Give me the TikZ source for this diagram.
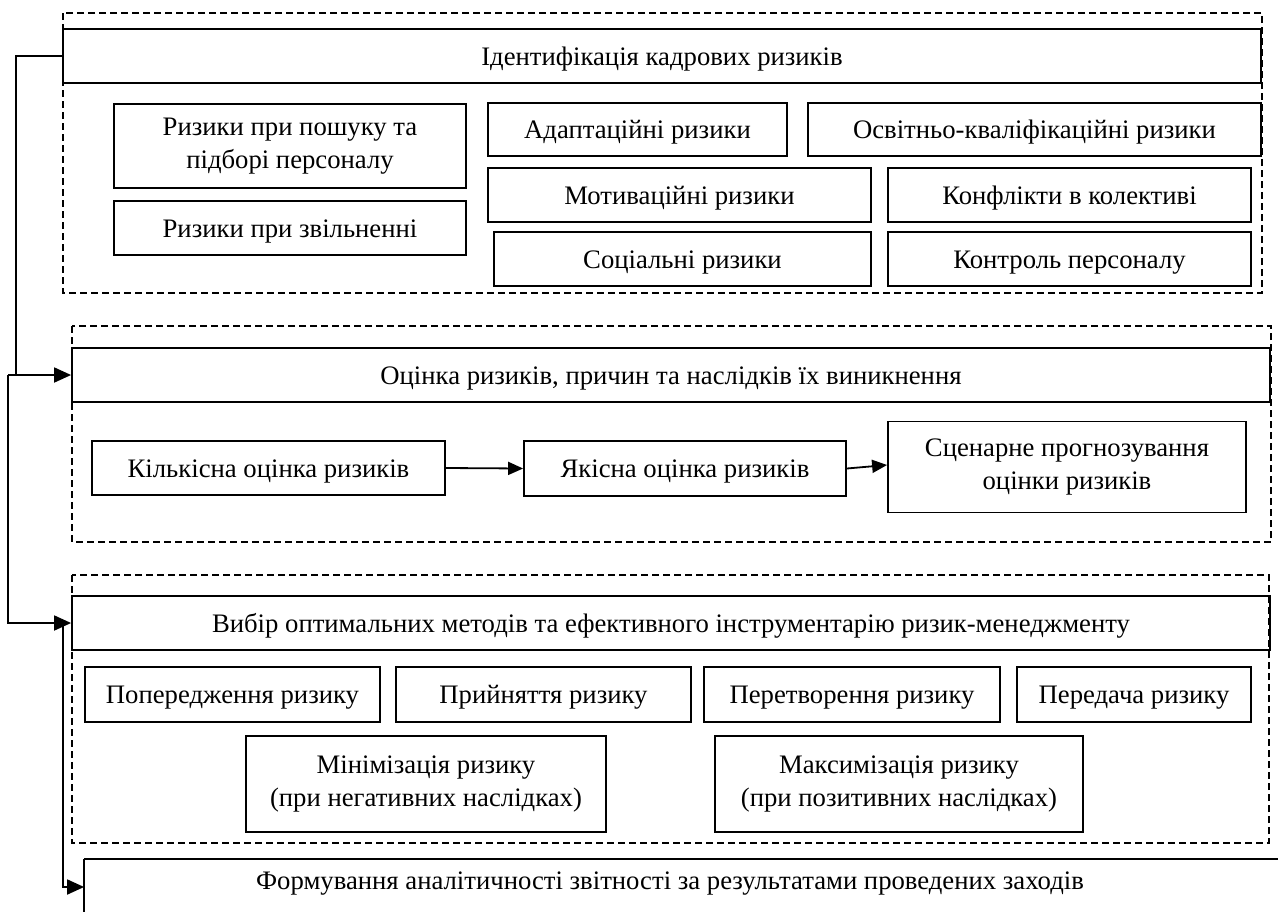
\documentclass[tikz,border=0pt]{standalone}
\usepackage{fontspec}
\setmainfont{Liberation Serif}
\usetikzlibrary{arrows.meta,calc}
\begin{document}
\begin{tikzpicture}[x=1pt,y=-1pt,
  line/.style={line width=1.8pt},
  box/.style={draw,line width=1.8pt,inner sep=0pt,align=center,font=\fontsize{26.7}{33}\selectfont},
  one/.style={box,text height=22pt,text depth=4pt},
  grp/.style={draw,line width=1.2pt,dash pattern=on 7pt off 4pt},
  arr/.style={line width=1.8pt,-{Triangle[length=17pt,width=15pt]}},
  arrs/.style={line width=1.8pt,-{Triangle[length=15pt,width=13pt]}}]
\useasboundingbox (0,0) rectangle (1278,911);
\clip (0,0) rectangle (1278,911);
% group frames
\draw[grp] (63,13) rectangle (1262,293);
\draw[grp] (72,326) rectangle (1271,542);
\draw[grp] (72,575) rectangle (1269,843);
% group 1
\node[one,minimum width=1198,minimum height=54] (t1) at (662,56) {Ідентифікація кадрових ризиків};
\node[box,minimum width=352,minimum height=84] (pos) at (290,146) {Ризики при пошуку та\\підборі персоналу};
\node[one,minimum width=352,minimum height=54] (zvil) at (290,228) {Ризики при звільненні};
\node[one,minimum width=299,minimum height=53] (adapt) at (637.5,129.5) {Адаптаційні ризики};
\node[one,minimum width=453,minimum height=53] (osvit) at (1034.5,129.5) {Освітньо-кваліфікаційні ризики};
\node[one,minimum width=383,minimum height=54] (motiv) at (679.5,195) {Мотиваційні ризики};
\node[one,minimum width=363,minimum height=54] (konfl) at (1069.5,195) {Конфлікти в колективі};
\node[one,minimum width=377,minimum height=54] (social) at (682.5,259) {Соціальні ризики};
\node[one,minimum width=363,minimum height=54] (kontr) at (1069.5,259) {Контроль персоналу};
% group 2
\node[one,minimum width=1198,minimum height=54] (t2) at (671,375) {Оцінка ризиків, причин та наслідків їх виникнення};
\node[one,minimum width=353,minimum height=54] (kilk) at (268.5,468) {Кількісна оцінка ризиків};
\node[one,minimum width=322,minimum height=55] (yak) at (685,468.5) {Якісна оцінка ризиків};
\node[box,minimum width=358,minimum height=91] (scen) at (1067,467) {Сценарне прогнозування\\оцінки ризиків};
\draw[arrs] (kilk.east) -- (yak.west);
\draw[arrs] (yak.east) -- ([yshift=2pt]scen.west);
% group 3
\node[one,minimum width=1198,minimum height=54] (t3) at (671,623) {Вибір оптимальних методів та ефективного інструментарію ризик-менеджменту};
\node[one,minimum width=295,minimum height=55] (poper) at (232.5,694.5) {Попередження ризику};
\node[one,minimum width=295,minimum height=55] (pryin) at (543.5,694.5) {Прийняття ризику};
\node[one,minimum width=296,minimum height=55] (peretv) at (852,694.5) {Перетворення ризику};
\node[one,minimum width=234,minimum height=55] (pered) at (1134,694.5) {Передача ризику};
\node[box,minimum width=360,minimum height=96] (minim) at (426,784) {Мінімізація ризику\\(при негативних наслідках)};
\node[box,minimum width=368,minimum height=96] (maxim) at (899,784) {Максимізація ризику\\(при позитивних наслідках)};
% final
\node[one,draw=none,minimum width=1170,minimum height=38] (fin) at (670,880) {Формування аналітичності звітності за результатами проведених заходів};
\draw[line] (fin.north west) ++(0,-1) -- ++(1300,0);
\draw[line] (fin.north west) ++(0,-1) -- ++(0,80);
% connectors
\coordinate (a1) at (16,56);
\coordinate (b0) at (8,375);
\coordinate (c0) at (63,623);
\draw[arr] (t1.west) -- (a1) |- (t2.west);
\draw[line] (b0) -- (a1 |- t2.west);
\draw[arr] (b0) |- (t3.west);
\draw[arr] (c0) |- ([yshift=-7pt]fin.west);
\end{tikzpicture}
\end{document}
